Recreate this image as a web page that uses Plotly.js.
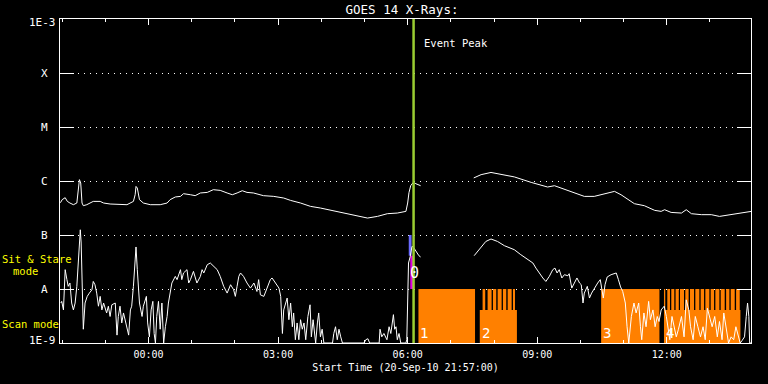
<!DOCTYPE html>
<html><head><meta charset="utf-8">
<script src="https://cdn.plot.ly/plotly-3.0.1.min.js"></script>
<style>html,body{margin:0;padding:0;background:#000;}#chart{width:768px;height:384px;}</style>
</head><body><div id="chart"></div>
<script>
// ---- Data (time = hours from 2010-09-21 00:00 UT; flux in W/m^2) ----
const hourTicks  = [0, 3, 6, 9, 12];
const hourLabels = ['00:00', '03:00', '06:00', '09:00', '12:00'];
const levelVals  = [1e-9, 1e-8, 1e-7, 1e-6, 1e-5, 1e-4, 1e-3];
const levelText  = ['1E-9', 'A', 'B', 'C', 'M', 'X', '1E-3'];

// GOES long channel (1-8 A)
const longT = [
 -2.04,-2.00,-1.93,-1.88,-1.82,-1.74,-1.66,-1.62,-1.60,-1.57,
 -1.54,-1.51,-1.43,-1.28,-1.12,-1.04,-0.89,-0.50,-0.35,-0.31,
 -0.29,-0.26,-0.21,-0.12,0.04,0.27,0.43,0.50,0.62,0.74,
 0.81,0.97,1.08,1.20,1.36,1.50,1.66,1.82,1.94,2.05,
 2.17,2.28,2.43,2.66,2.90,3.13,3.29,3.52,3.75,3.98,
 4.22,4.52,4.84,5.07,5.30,5.53,5.76,5.96,6.00,6.03,
 6.07,6.13,6.19,6.30,null,
 7.53,7.70,7.93,8.16,8.47,8.86,9.24,9.40,9.55,9.86,
 10.09,10.32,10.48,10.64,10.79,10.94,11.10,11.25,11.48,11.72,
 11.87,11.95,12.10,12.34,12.45,12.57,12.80,13.03,13.22,13.50,
 13.73,13.96];
const longFlux = [
 3.96e-7,4.51e-7,4.91e-7,4.19e-7,3.91e-7,3.64e-7,3.91e-7,6.9e-7,1.06e-6,9.18e-7,
 3.91e-7,3.49e-7,3.64e-7,4.19e-7,4.19e-7,3.91e-7,3.75e-7,3.64e-7,4.19e-7,5.57e-7,
 7.94e-7,7.41e-7,4.51e-7,3.91e-7,3.64e-7,3.64e-7,3.91e-7,4.51e-7,5.06e-7,5.19e-7,
 5.82e-7,5.57e-7,5.35e-7,6.0e-7,6.15e-7,6.9e-7,6.7e-7,6.0e-7,5.57e-7,6.0e-7,
 6.61e-7,6.15e-7,6.0e-7,5.35e-7,5.19e-7,4.84e-7,4.37e-7,3.91e-7,3.39e-7,3.16e-7,
 2.86e-7,2.55e-7,2.21e-7,2.06e-7,2.21e-7,2.48e-7,2.55e-7,2.74e-7,3.91e-7,6.07e-7,
 8.18e-7,9.42e-7,8.91e-7,8.18e-7,null,
 1.14e-6,1.31e-6,1.44e-6,1.31e-6,1.19e-6,9.42e-7,7.74e-7,8.18e-7,7.41e-7,6.0e-7,
 5.19e-7,5.19e-7,5.57e-7,6.15e-7,6.42e-7,5.57e-7,4.51e-7,3.80e-7,3.49e-7,2.86e-7,
 2.74e-7,2.94e-7,2.62e-7,2.55e-7,2.94e-7,2.48e-7,2.38e-7,2.38e-7,2.21e-7,2.38e-7,
 2.55e-7,2.74e-7];

// GOES short channel (0.5-4 A)
const shortT = [
 -2.03,-2.01,-1.97,-1.93,-1.89,-1.86,-1.82,-1.78,-1.74,-1.70,
 -1.66,-1.62,-1.58,-1.56,-1.54,-1.51,-1.47,-1.42,-1.37,-1.31,
 -1.28,-1.24,-1.20,-1.16,-1.12,-1.08,-1.04,-0.97,-0.93,-0.89,
 -0.85,-0.77,-0.73,-0.70,-0.66,-0.62,-0.58,-0.50,-0.46,-0.42,
 -0.39,-0.35,-0.31,-0.29,-0.26,-0.21,-0.15,-0.12,-0.05,-0.02,
 0.02,0.06,0.10,0.13,0.16,0.19,0.23,0.27,0.31,0.35,
 0.39,0.43,0.46,0.50,0.54,0.62,0.66,0.74,0.77,0.81,
 0.89,0.93,0.97,1.04,1.12,1.20,1.24,1.28,1.36,1.43,
 1.51,1.59,1.66,1.74,1.82,1.90,1.97,2.01,2.05,2.09,
 2.13,2.20,2.28,2.36,2.44,2.51,2.55,2.59,2.67,2.75,
 2.82,2.86,2.94,3.02,3.06,3.10,3.13,3.17,3.21,3.25,
 3.29,3.33,3.36,3.40,3.44,3.48,3.52,3.56,3.60,3.64,
 3.69,3.74,3.77,3.81,3.87,3.91,3.94,3.98,4.02,4.06,
 4.26,4.29,4.33,4.37,4.41,4.45,4.49,4.99,5.03,5.08,
 5.12,5.34,5.36,5.40,5.45,5.52,5.57,5.61,5.65,5.67,
 5.70,5.73,5.76,5.80,5.84,5.96,5.98,6.00,6.02,6.06,
 6.10,6.13,6.19,6.26,6.30,null,7.54,7.62,7.70,7.81,
 7.93,8.08,8.24,8.32,8.47,8.62,8.78,8.90,8.97,9.05,
 9.13,9.20,9.28,9.36,9.41,9.46,9.51,9.57,9.63,9.71,
 9.74,9.80,9.86,9.92,9.98,10.02,10.06,10.09,10.16,10.21,
 10.26,10.32,10.40,10.46,10.50,10.53,10.57,10.62,10.71,10.83,
 10.88,10.93,10.98,11.04,11.08,11.12,11.18,11.24,11.29,11.35,
 11.39,11.42,11.47,11.52,11.58,11.62,11.68,11.73,11.78,11.82,
 11.87,11.94,11.99,12.03,12.07,12.12,12.17,12.22,12.27,12.34,
 12.40,12.45,12.51,12.55,12.61,12.66,12.72,12.78,12.84,12.89,
 12.94,12.99,13.05,13.11,13.17,13.22,13.28,13.32,13.38,13.43,
 13.49,13.55,13.60,13.65,13.70,13.74,13.80,13.84,13.87,13.90,
 13.92,13.96];
const shortFlux = [
 5.5e-9,5.9e-9,4.1e-9,2.28e-8,1.49e-8,1.12e-8,1.29e-8,5.5e-9,4.1e-9,5.5e-9,
 1.12e-8,4.64e-8,1.25e-7,7.1e-8,1.49e-8,1.8e-9,5.5e-9,7.3e-9,8.4e-9,9.7e-9,
 1.38e-8,1.2e-8,8.4e-9,4.8e-9,7.3e-9,4.1e-9,5.5e-9,3.6e-9,4.8e-9,3.1e-9,
 5.1e-9,5.5e-9,1.4e-9,3.1e-9,4.8e-9,2.35e-9,3.6e-9,1.8e-9,1.4e-9,4.1e-9,
 4.8e-9,1.12e-8,5.34e-8,6.0e-8,2.28e-8,5.5e-9,3.1e-9,4.8e-9,7.3e-9,2.35e-9,
 1.3e-9,4.1e-9,5.9e-9,1.5e-9,1e-9,3.1e-9,5.9e-9,1.8e-9,5.5e-9,1e-9,
 2.0e-9,3.1e-9,5.5e-9,8.4e-9,1.29e-8,1.71e-8,1.49e-8,2.28e-8,1.49e-8,1.98e-8,
 2.28e-8,1.29e-8,1.49e-8,2.12e-8,1.29e-8,1.71e-8,2.28e-8,1.98e-8,2.82e-8,3.03e-8,
 2.62e-8,2.28e-8,1.71e-8,1.12e-8,8.4e-9,1.2e-8,9.7e-9,7.3e-9,1.12e-8,1.71e-8,
 1.98e-8,1.71e-8,1.29e-8,1.04e-8,1.29e-8,9.0e-9,1.49e-8,7.8e-9,7.3e-9,1.12e-8,
 1.49e-8,1.60e-8,1.29e-8,1.04e-8,7.3e-9,1.5e-9,4.1e-9,5.5e-9,6.8e-9,2.7e-9,
 5.5e-9,2.0e-9,3.6e-9,1.15e-9,2.35e-9,1.15e-9,2.7e-9,1.8e-9,2.35e-9,1.15e-9,
 3.1e-9,5.1e-9,1.3e-9,2.7e-9,1e-9,2.35e-9,3.6e-9,1.3e-9,1.8e-9,1e-9,
 1e-9,1.5e-9,2.0e-9,1.15e-9,1.8e-9,1.3e-9,1e-9,1e-9,1.15e-9,1.2e-9,
 1e-9,1e-9,1.8e-9,1.3e-9,1.5e-9,1.15e-9,2.0e-9,1.5e-9,2.5e-9,3.35e-9,
 1.8e-9,2.0e-9,1.15e-9,1.5e-9,1e-9,1e-9,1.15e-9,9.7e-9,3.03e-8,4.02e-8,
 6.15e-8,6.0e-8,4.97e-8,4.14e-8,3.92e-8,null,4.14e-8,4.97e-8,6.15e-8,7.6e-8,
 8.43e-8,7.6e-8,6.34e-8,6.0e-8,5.34e-8,4.32e-8,3.58e-8,3.03e-8,2.44e-8,1.92e-8,
 1.60e-8,1.38e-8,1.71e-8,2.28e-8,2.44e-8,1.98e-8,2.28e-8,1.60e-8,1.84e-8,1.76e-8,
 1.92e-8,1.04e-8,1.29e-8,1.60e-8,1.29e-8,1.2e-8,5.5e-9,8.4e-9,1.12e-8,6.8e-9,
 8.4e-9,1.04e-8,1.29e-8,1.49e-8,8.4e-9,6.8e-9,1.2e-8,1.67e-8,1.84e-8,1.98e-8,
 1.49e-8,1.09e-8,9.0e-9,5.5e-9,2.0e-9,1e-9,3.1e-9,5.5e-9,3.6e-9,5.5e-9,
 2.0e-9,1.15e-9,3.6e-9,2.0e-9,5.9e-9,2.7e-9,4.1e-9,2.0e-9,3.1e-9,2.5e-9,
 4.1e-9,4.8e-9,3.1e-9,1.8e-9,1.15e-9,3.1e-9,2.0e-9,1.3e-9,1.8e-9,3.1e-9,
 1.3e-9,6.3e-9,4.1e-9,2.0e-9,1.15e-9,3.1e-9,2.0e-9,1.3e-9,2.0e-9,1.15e-9,
 4.4e-9,3.1e-9,2.0e-9,3.1e-9,1.3e-9,2.5e-9,1.15e-9,3.6e-9,1.8e-9,1e-9,
 1.3e-9,1.15e-9,2.0e-9,1.4e-9,1e-9,1.1e-9,1.3e-9,3.1e-9,5.5e-9,3.1e-9,
 1e-9,1e-9];

// Observing-mode intervals (hours)
const scanFullStart  = [6.25, 10.48];
const scanFullEnd    = [7.56, 11.83];
const scanLowStart   = [7.67, 11.935];
const scanLowEnd     = [8.53, 13.705];
const stripeStart = [7.735,7.851,7.975,8.084,8.206,8.316,8.439,
  11.935,12.012,12.104,12.204,12.306,12.429,12.538,12.661,12.784,12.893,13.016,13.125,13.248,13.374,13.480,13.605];
const stripeEnd   = [7.796,7.944,8.051,8.176,8.283,8.408,8.485,
  11.965,12.074,12.174,12.278,12.399,12.506,12.631,12.754,12.863,12.986,13.095,13.218,13.341,13.450,13.573,13.689];
const modeLevels = {bottom: 1e-9, mid: 4.1e-9, top: 1e-8};
const scanLabels = ['1', '2', '3', '4'];
const scanLabelT = [6.25, 7.67, 10.48, 11.935];

const peakTime = 6.137;
const blueBarT = [6.025, 6.09],  blueBarFlux = [4.14e-8, 1.0e-7];
const magBarT  = [6.06, 6.125], magBarFlux = [1.0e-8, 4.14e-8];

// ---- Build ----
const FONT = 'DejaVu Sans Mono, monospace';
function rects(starts, ends, lo, hi, x, y) {
  for (let i = 0; i < starts.length; i++) {
    x.push(starts[i], ends[i], ends[i], starts[i], starts[i], null);
    y.push(lo, lo, hi, hi, lo, null);
  }
}
const ox = [], oy = [];
rects(scanFullStart, scanFullEnd, modeLevels.bottom, modeLevels.top, ox, oy);
rects(scanLowStart, scanLowEnd, modeLevels.bottom, modeLevels.mid, ox, oy);
rects(stripeStart, stripeEnd, modeLevels.mid, modeLevels.top, ox, oy);
const bx = [], by = [], mx = [], my = [];
rects([blueBarT[0]], [blueBarT[1]], blueBarFlux[0], blueBarFlux[1], bx, by);
rects([magBarT[0]], [magBarT[1]], magBarFlux[0], magBarFlux[1], mx, my);

const traces = [
  {x: ox, y: oy, type: 'scatter', mode: 'lines', fill: 'toself', fillcolor: '#ff8000',
   line: {width: 0, color: '#ff8000'}, hoverinfo: 'skip'},
  {x: bx, y: by, type: 'scatter', mode: 'lines', fill: 'toself', fillcolor: '#6a6aff',
   line: {width: 0, color: '#6a6aff'}, hoverinfo: 'skip'},
  {x: mx, y: my, type: 'scatter', mode: 'lines', fill: 'toself', fillcolor: '#e000e0',
   line: {width: 0, color: '#e000e0'}, hoverinfo: 'skip'},
  {x: longT, y: longFlux, type: 'scatter', mode: 'lines', line: {color: '#fff', width: 1}, connectgaps: false},
  {x: shortT, y: shortFlux, type: 'scatter', mode: 'lines', line: {color: '#fff', width: 1}, connectgaps: false},
  {x: [peakTime, peakTime], y: [levelVals[0], levelVals[levelVals.length - 1]], type: 'scatter', mode: 'lines',
   line: {color: '#9acd32', width: 2.5}}
];

const L = 60, W = 691;
const px = p => (p - L) / W;
const annotations = [];
levelText.forEach((t, i) => {
  const edge = (i === 0 || i === levelText.length - 1);
  annotations.push({text: t, xref: 'paper', yref: 'y', x: edge ? px(58) : px(44), y: Math.log10(levelVals[i]),
    xanchor: edge ? 'right' : 'center', yanchor: 'middle', showarrow: false,
    yshift: i === 0 ? 3 : (i === levelText.length - 1 ? -3.5 : 0),
    font: {family: FONT, size: 11, color: '#fff'}});
});
annotations.push({text: 'Event Peak', xref: 'x', yref: 'paper', x: peakTime, y: (343 - 43) / 324,
  xanchor: 'left', yanchor: 'middle', xshift: 8, showarrow: false, font: {family: FONT, size: 10.5, color: '#fff'}});
scanLabels.forEach((t, i) => {
  annotations.push({text: t, xref: 'x', yref: 'paper', x: scanLabelT[i], y: (343 - 332.5) / 324,
    xanchor: 'left', yanchor: 'middle', xshift: 0, showarrow: false, font: {family: FONT, size: 14, color: '#fff'}});
});
annotations.push({text: '0', xref: 'x', yref: 'paper', x: peakTime, y: (343 - 272.5) / 324,
  xanchor: 'center', yanchor: 'middle', xshift: 1, showarrow: false, font: {family: FONT, size: 15, color: '#fff'}});
annotations.push({text: 'Sit & Stare', xref: 'paper', yref: 'paper', x: px(0), y: (343 - 259) / 324,
  xanchor: 'left', yanchor: 'middle', showarrow: false, font: {family: FONT, size: 10.5, color: '#ffff00'}});
annotations.push({text: 'mode', xref: 'paper', yref: 'paper', x: px(11), y: (343 - 270.5) / 324,
  xanchor: 'left', yanchor: 'middle', showarrow: false, font: {family: FONT, size: 10.5, color: '#ffff00'}});
annotations.push({text: 'Scan mode', xref: 'paper', yref: 'paper', x: px(0), y: (343 - 324) / 324,
  xanchor: 'left', yanchor: 'middle', showarrow: false, font: {family: FONT, size: 10.5, color: '#ffff00'}});

const layout = {
  width: 768, height: 384,
  paper_bgcolor: '#000', plot_bgcolor: '#000',
  margin: {l: 60, r: 17, t: 19, b: 41, pad: 0},
  showlegend: false,
  font: {family: FONT, color: '#fff', size: 10},
  title: {text: 'GOES 14 X-Rays:', font: {family: FONT, size: 12.5, color: '#fff'},
    xref: 'container', yref: 'container', x: 402 / 768, xanchor: 'center', y: 1 - 9.5 / 384, yanchor: 'middle'},
  xaxis: {range: [-2.05, 13.95], tickmode: 'array', tickvals: hourTicks, ticktext: hourLabels,
    ticks: 'inside', ticklen: 6, tickwidth: 1, tickcolor: '#fff', ticklabelstandoff: 2,
    showline: true, linecolor: '#fff', linewidth: 1, mirror: 'ticks',
    showgrid: false, zeroline: false, tickfont: {family: FONT, size: 10, color: '#fff'},
    minor: {tickmode: 'linear', tick0: 0, dtick: 1, ticks: 'inside', ticklen: 3, tickcolor: '#fff', showgrid: false},
    title: {text: 'Start Time (20-Sep-10 21:57:00)', font: {family: FONT, size: 10, color: '#fff'}, standoff: 4},
    fixedrange: true},
  yaxis: {type: 'log', range: [-9, -3], tickmode: 'array', tickvals: levelVals, ticktext: levelText,
    showticklabels: false, ticks: 'inside', ticklen: 14, tickwidth: 1, tickcolor: '#fff',
    showline: true, linecolor: '#fff', linewidth: 1, mirror: 'ticks',
    showgrid: true, gridcolor: '#fff', gridwidth: 1, griddash: '1px,5px', zeroline: false, fixedrange: true},
  annotations: annotations
};

Plotly.newPlot('chart', traces, layout, {staticPlot: true, displayModeBar: false});
</script>
</body></html>
